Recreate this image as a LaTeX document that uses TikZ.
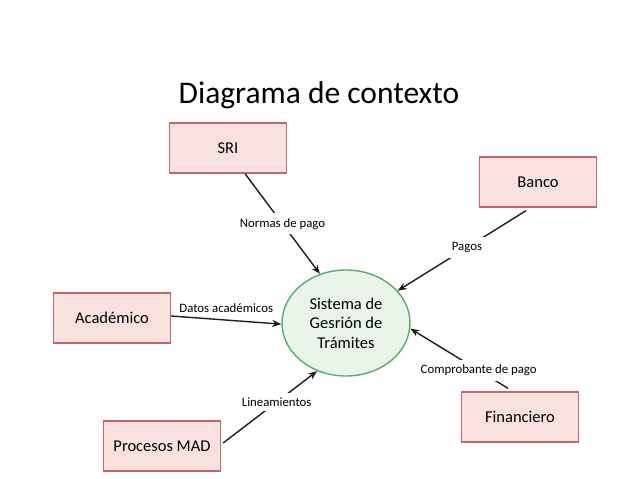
\documentclass[tikz,border=0pt]{standalone}
\usepackage{xcolor}
\usepackage{fontspec}
\setmainfont{Carlito}
\usepackage{tikz}
\usetikzlibrary{positioning, arrows.meta, shapes.geometric}
\definecolor{boxpink}{HTML}{F9E2DE}
\definecolor{boxred}{HTML}{C9646E}
\definecolor{sysgreen}{HTML}{EAF5EA}
\definecolor{sysedge}{HTML}{58AD6B}
\definecolor{linegray}{HTML}{1E1E1E}

\tikzset{
  extbox/.style={fill=boxpink, draw=boxred, line width=1.3pt,
                 minimum width=117pt, minimum height=50pt, inner sep=0pt,
                 font=\fontsize{16.5}{19}\selectfont},
  flow/.style={draw=linegray, line width=1.4pt, -{Stealth[length=9pt, width=7pt]}},
  flowlbl/.style={fill=white, inner sep=5pt, font=\fontsize{12.8}{14}\selectfont}
}

\begin{document}
\begin{tikzpicture}[x=1pt, y=-1pt]
    \useasboundingbox[fill=white] (0,0) rectangle (638,479);

    \node[anchor=base] (title) at (319,103) {\fontsize{31.5}{36}\selectfont Diagrama de contexto};

    \node[ellipse, fill=sysgreen, draw=sysedge, line width=1.4pt,
          minimum width=128pt, minimum height=106pt, inner sep=0pt,
          align=center, font=\fontsize{16.5}{19.5}\selectfont] (sys) at (346,323)
          {Sistema de\\Gesrión de\\Trámites};

    \node[extbox] (sri) at (228,148) {SRI};
    \node[extbox] (banco) at (538,182) {Banco};
    \node[extbox] (acad) at (112,318) {Académico};
    \node[extbox] (mad) at (162,446) {Procesos MAD};
    \node[extbox] (fin) at (520,417) {Financiero};

    \draw[flow] ([xshift=17pt]sri.south) -- node[flowlbl, pos=0.5] {Normas de pago} (sys.118);
    \draw[flow] ([xshift=-12pt, yshift=-3pt]banco.south) -- node[flowlbl, pos=0.46] {Pagos} (sys.32);
    \draw[flow] ([yshift=2pt]acad.east) -- node[font=\fontsize{12.8}{14}\selectfont, above=3pt] {Datos académicos} (sys.181);
    \draw[flow] ([xshift=2pt, yshift=3pt]mad.east) -- node[flowlbl, pos=0.57] {Lineamientos} (sys.239);
    \draw[flow] ([xshift=-12pt, yshift=3pt]fin.north) -- node[flowlbl, pos=0.3] {Comprobante de pago} (sys.355);
\end{tikzpicture}
\end{document}
